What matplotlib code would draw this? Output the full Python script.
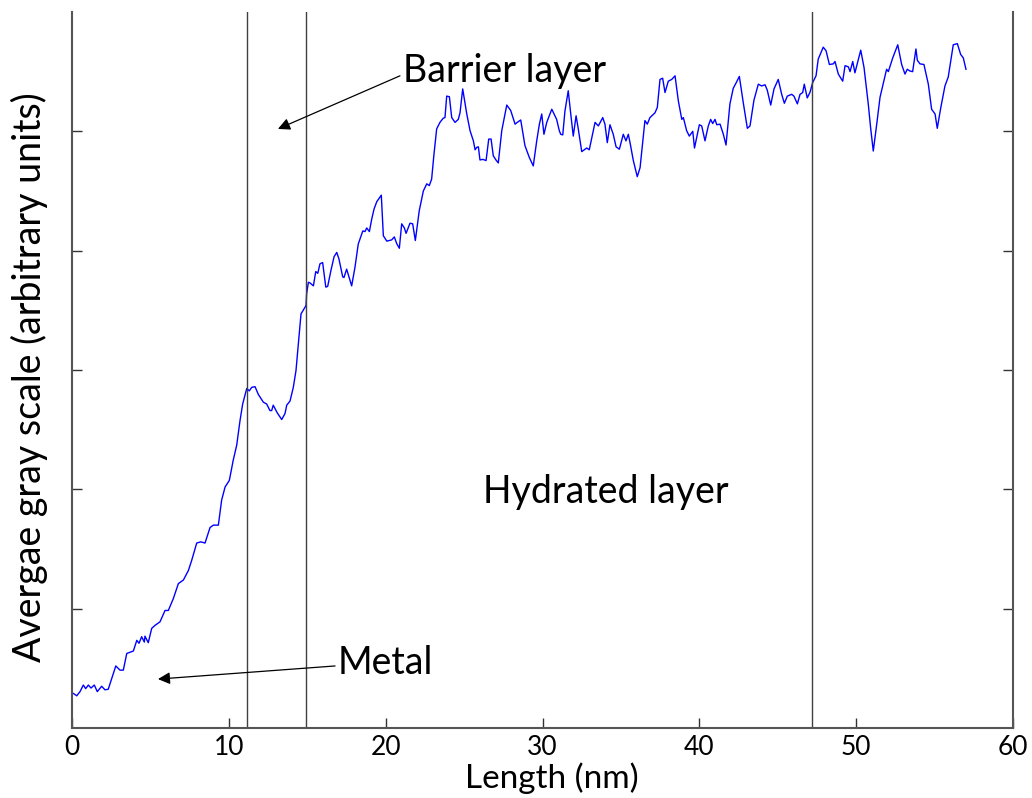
import matplotlib
matplotlib.use("Agg")
import matplotlib.pyplot as plt

plt.rcParams['font.family'] = ['Lato', 'DejaVu Sans']

# profile (x in nm, y in arbitrary gray units)
length_nm = [
    0.08, 0.30, 0.51, 0.72, 0.87, 1.04, 1.21, 1.42, 1.61, 1.89, 2.10, 2.31, 2.53, 2.79, 3.06, 3.27,
    3.49, 3.91, 4.13, 4.27, 4.44, 4.61, 4.65, 4.86, 5.08, 5.29, 5.61, 5.93, 6.14, 6.46, 6.78, 7.10,
    7.42, 7.63, 7.95, 8.21, 8.48, 8.80, 9.01, 9.33, 9.54, 9.76, 10.03, 10.28, 10.50, 10.71, 10.88,
    11.14, 11.30, 11.46, 11.67, 11.88, 12.20, 12.41, 12.62, 12.73, 12.83, 13.09, 13.37, 13.58, 13.69,
    13.90, 14.11, 14.28, 14.60, 14.92, 14.96, 15.07, 15.17, 15.39, 15.54, 15.67, 15.81, 15.98, 16.18,
    16.30, 16.51, 16.71, 16.88, 17.02, 17.26, 17.34, 17.51, 17.83, 18.04, 18.25, 18.54, 18.68, 18.79,
    18.96, 19.11, 19.26, 19.43, 19.72, 19.85, 20.07, 20.38, 20.55, 20.70, 20.87, 21.02, 21.19, 21.30,
    21.55, 21.72, 21.89, 22.14, 22.40, 22.62, 22.78, 22.93, 23.08, 23.25, 23.46, 23.67, 23.78, 23.89,
    24.06, 24.21, 24.42, 24.63, 24.74, 24.91, 25.17, 25.38, 25.59, 25.70, 25.80, 25.91, 26.01, 26.19,
    26.40, 26.57, 26.72, 26.86, 27.03, 27.18, 27.40, 27.72, 27.97, 28.25, 28.39, 28.61, 28.88, 29.16,
    29.41, 29.63, 29.80, 29.95, 30.09, 30.27, 30.59, 30.90, 31.07, 31.16, 31.29, 31.43, 31.64, 31.80,
    31.96, 32.14, 32.28, 32.50, 32.82, 32.98, 33.35, 33.56, 33.84, 33.98, 34.13, 34.30, 34.51, 34.69,
    34.90, 35.15, 35.32, 35.47, 35.58, 35.79, 36.04, 36.22, 36.53, 36.68, 36.85, 37.17, 37.32, 37.49,
    37.66, 37.81, 38.02, 38.24, 38.45, 38.66, 38.88, 38.98, 39.19, 39.36, 39.58, 39.69, 40.00, 40.15,
    40.36, 40.57, 40.72, 40.85, 41.00, 41.11, 41.32, 41.53, 41.70, 41.95, 42.16, 42.38, 42.55, 42.80,
    43.06, 43.23, 43.48, 43.76, 43.97, 44.19, 44.33, 44.55, 44.76, 45.03, 45.25, 45.42, 45.61, 45.89,
    46.03, 46.25, 46.42, 46.59, 46.69, 46.88, 47.05, 47.23, 47.44, 47.58, 47.90, 48.08, 48.29, 48.54,
    48.65, 48.86, 49.14, 49.29, 49.50, 49.61, 49.78, 49.92, 50.29, 50.50, 50.77, 50.92, 51.09, 51.31,
    51.52, 51.69, 51.94, 52.05, 52.33, 52.65, 52.90, 53.11, 53.26, 53.43, 53.60, 53.81, 53.90, 54.07,
    54.32, 54.60, 54.81, 55.03, 55.17, 55.39, 55.66, 55.87, 56.19, 56.45, 56.66, 56.83, 57.00,
]
gray = [
    45.8, 45.4, 46.1, 47.2, 46.6, 47.2, 46.7, 47.2, 46.1, 47.0, 46.4, 46.5, 48.3, 50.4, 49.7, 49.7,
    52.5, 52.9, 54.7, 54.2, 55.3, 54.4, 55.4, 54.3, 56.7, 57.2, 57.8, 59.7, 59.7, 61.7, 64.2, 64.8,
    66.4, 68.1, 71.0, 71.2, 71.0, 73.6, 74.0, 74.0, 78.2, 80.4, 81.5, 84.9, 87.4, 91.5, 94.3,
    96.9, 96.5, 97.1, 97.2, 95.9, 94.6, 94.3, 93.2, 93.2, 94.1, 92.8, 91.7, 92.7, 94.1,
    94.8, 97.1, 99.9, 109.4, 110.8, 112.8, 114.7, 114.6, 114.1, 116.5, 116.2, 117.8, 118.0, 113.9,
    114.0, 116.7, 119.0, 119.7, 118.6, 115.6, 115.5, 116.9, 114.1, 117.2, 121.1, 123.3, 123.2, 123.8,
    123.2, 125.3, 127.0, 128.2, 129.3, 122.5, 121.6, 121.8, 122.3, 121.2, 120.4, 124.5, 123.8, 122.9,
    124.6, 124.5, 121.7, 126.7, 130.0, 131.2, 130.9, 132.0, 136.2, 140.4, 141.5, 142.2, 142.3, 145.9,
    145.8, 142.3, 141.5, 142.0, 143.1, 147.1, 142.9, 140.1, 138.4, 136.9, 137.3, 137.4, 135.2, 135.3,
    135.1, 138.7, 138.7, 135.9, 135.2, 134.7, 140.1, 144.4, 143.5, 141.2, 141.5, 141.9, 137.6, 135.6,
    134.2, 138.4, 141.2, 142.9, 139.5, 141.5, 143.7, 142.0, 140.1, 139.5, 139.4, 143.4, 146.8, 142.9,
    139.2, 142.6, 140.4, 136.6, 137.2, 136.9, 141.5, 140.9, 142.3, 141.2, 138.1, 141.1, 139.5, 137.4,
    137.0, 139.5, 138.4, 139.5, 138.1, 135.1, 132.4, 133.9, 141.8, 141.2, 142.3, 143.1, 144.0, 148.7,
    148.9, 146.5, 148.4, 148.7, 149.3, 145.1, 142.0, 142.3, 140.1, 139.2, 140.0, 137.2, 141.1, 140.9,
    138.4, 140.9, 142.0, 141.3, 142.0, 141.1, 141.2, 139.5, 137.7, 144.6, 147.2, 148.3, 149.2, 144.8,
    140.5, 140.9, 145.2, 147.9, 147.6, 147.8, 146.9, 144.4, 147.1, 148.7, 146.2, 144.7, 145.9, 146.2,
    145.9, 144.6, 146.2, 146.5, 147.9, 145.6, 146.5, 148.2, 149.3, 152.1, 154.1, 153.5, 151.2, 151.3,
    151.7, 149.6, 148.4, 151.0, 150.8, 150.0, 151.7, 149.8, 153.6, 150.7, 144.6, 140.6, 136.7, 141.2,
    145.7, 147.6, 150.4, 150.0, 152.3, 154.5, 151.2, 149.6, 150.4, 150.1, 150.0, 153.8, 151.9, 151.3,
    151.2, 147.9, 143.7, 142.9, 140.5, 143.9, 147.6, 149.1, 154.5, 154.7, 152.9, 152.3, 150.4,
]

boundaries = [11.16, 14.92, 47.18]
x_ticks = [0, 10, 20, 30, 40, 50, 60]
y_ticks = [60, 80, 100, 120, 140]

fig = plt.figure(figsize=(10.32, 7.98), dpi=100)
ax = fig.add_axes([0.0698, 0.0877, 0.9118, 0.8973])

ax.plot(length_nm, gray, color='#0000ff', lw=1.0)
for b in boundaries:
    ax.axvline(b, color='#404040', lw=1.0)

ax.set_xlim(0, 60)
ax.set_ylim(40, 160)
ax.set_xticks(x_ticks)
ax.set_yticks(y_ticks)
ax.set_yticklabels([])
ax.tick_params(direction='in', length=7, width=1, color='#333333', labelsize=19, pad=5,
               right=True, top=False)
ax.spines['top'].set_visible(False)
for s in ['left', 'bottom', 'right']:
    ax.spines[s].set_color('#555555')
    ax.spines[s].set_linewidth(1.5)

ax.set_xlabel('Length (nm)', fontsize=24)
ax.xaxis.set_label_coords(0.51, -0.048)
ax.set_ylabel('Avergae gray scale (arbitrary units)', fontsize=27)
ax.yaxis.set_label_coords(-0.026, 0.49)

ax.text(21.1, 150.1, 'Barrier layer', fontsize=27, va='center', ha='left')
ax.text(26.2, 79.5, 'Hydrated layer', fontsize=27, va='center', ha='left')
ax.text(16.96, 50.9, 'Metal', fontsize=27, va='center', ha='left')

arrow = dict(arrowstyle='-|>', color='black', lw=0.9, mutation_scale=18, shrinkA=0, shrinkB=0)
ax.annotate('', xy=(13.13, 140.4), xytext=(20.91, 149.3), arrowprops=arrow)
ax.annotate('', xy=(5.48, 48.2), xytext=(16.77, 50.4), arrowprops=arrow)

fig.savefig('out.png', dpi=100)
